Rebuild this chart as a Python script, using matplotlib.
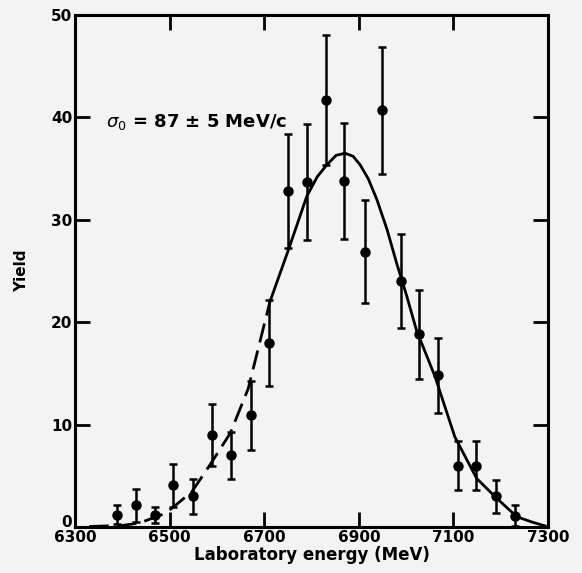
import numpy as np
import matplotlib as mpl
mpl.use("Agg")
import matplotlib.pyplot as plt
from matplotlib.transforms import ScaledTranslation

# measured points
energy = [6388, 6428, 6468, 6508, 6550, 6590, 6630, 6672, 6711, 6751, 6790,
          6830, 6869, 6912, 6948, 6989, 7028, 7068, 7110, 7148, 7190, 7231]
yield_ = [1.2, 2.1, 1.2, 4.1, 3.0, 9.0, 7.0, 10.9, 18.0, 32.8, 33.7,
          41.7, 33.8, 26.9, 40.7, 24.0, 18.8, 14.8, 6.0, 6.0, 3.0, 1.1]
err = [0.9, 1.6, 0.8, 2.1, 1.7, 3.0, 2.3, 3.4, 4.2, 5.6, 5.7,
       6.3, 5.7, 5.0, 6.2, 4.6, 4.3, 3.7, 2.4, 2.4, 1.6, 1.0]

# fitted curve
fit_e_dash = [6330, 6400, 6437, 6483, 6504, 6547, 6585, 6628, 6666, 6712]
fit_y_dash = [0.05, 0.15, 0.4, 1.2, 1.8, 3.45, 6.05, 9.15, 13.5, 22.0]
fit_e = [6712, 6751, 6790, 6812, 6832, 6852, 6871, 6888, 6903, 6920, 6938,
         6960, 6980, 7001, 7022, 7061, 7103, 7149, 7188, 7234, 7265, 7294]
fit_y = [22.0, 27.05, 32.3, 34.2, 35.35, 36.3, 36.5, 36.2, 35.35, 34.0, 32.0,
         29.0, 25.75, 22.6, 19.2, 14.7, 8.8, 4.75, 2.96, 1.0, 0.5, 0.1]

bg = "#f3f3f3"
mpl.rcParams.update({"font.size": 11, "font.family": "DejaVu Sans"})
fig = plt.figure(figsize=(5.82, 5.73), dpi=100, facecolor=bg)
ax = fig.add_axes([0.129, 0.0803, 0.8126, 0.8935], facecolor=bg)

ax.plot(fit_e_dash, fit_y_dash, color="black", lw=2.0, dashes=(7, 3))
ax.plot(fit_e, fit_y, color="black", lw=2.0)
ax.errorbar(energy, yield_, yerr=err, fmt="o", color="black", ms=6.5,
            elinewidth=1.8, capsize=3, capthick=1.8)

ax.set_xlim(6300, 7300)
ax.set_ylim(0, 50)
ax.set_xticks(np.arange(6300, 7301, 200))
ax.set_yticks(np.arange(0, 51, 10))
ax.tick_params(direction="in", length=11, width=2, top=True, right=True,
               labelsize=11, pad=2)
for lab in ax.get_xticklabels() + ax.get_yticklabels():
    lab.set_fontweight("bold")
# lift the "0" a little so it clears 6300
zero = ax.get_yticklabels()[0]
zero.set_transform(zero.get_transform() + ScaledTranslation(0, 6 / 100, fig.dpi_scale_trans))
for s in ax.spines.values():
    s.set_linewidth(2.2)

ax.set_xlabel("Laboratory energy (MeV)", fontsize=12, fontweight="bold", labelpad=1)
ax.set_ylabel("Yield", fontsize=11, fontweight="bold", labelpad=16)

ax.text(6365, 39.6, r"$\sigma_0$ = 87 ± 5 MeV/c", fontsize=13, fontweight="bold",
        va="center")

fig.savefig("out.png", dpi=100, facecolor=bg)
